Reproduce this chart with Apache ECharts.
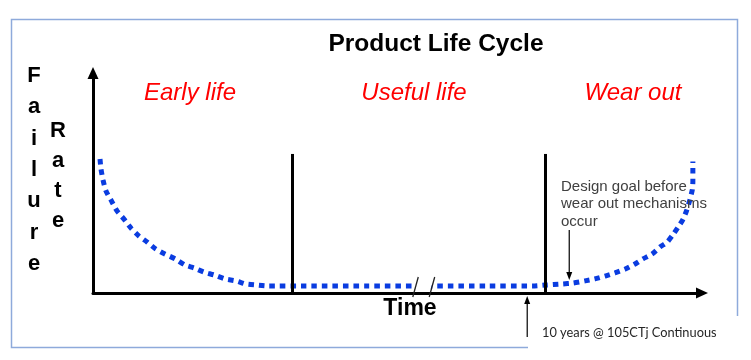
<!DOCTYPE html>
<html><head><meta charset="utf-8">
<script src="https://cdn.jsdelivr.net/npm/echarts@6/dist/echarts.min.js"></script>
<style>html,body{margin:0;padding:0;background:#fff}#c{width:751px;height:360px}</style>
</head><body><div id="c"></div>
<script>
// ---- data (time in % of life span, failure rate in relative units) ----
const time = [1.15,1.31,1.64,2.13,3.12,3.94,5.09,6.24,7.55,8.87,10.3,11.8,13.5,15.1,16.6,18.2,19.9,21.7,23.5,25.1,26.9,28.7,
  35,45,55,65,72.2,74.2,
  77.0,78.8,80.8,82.4,84.1,85.7,87.4,89.0,90.3,91.8,93.1,94.3,95.2,96.1,96.9,97.5,98.0,98.4,98.5,98.5,98.5];
const failureRate = [60.9,56.4,51.4,46.4,41.4,37.3,33.6,29.5,25.9,23.2,20.0,17.7,15.5,12.7,11.4,9.5,8.2,6.4,5.5,4.1,3.6,3.2,
  3.2,3.2,3.2,3.2,3.2,3.6,
  4.1,4.5,5.5,6.4,7.7,9.1,10.9,13.2,15.5,17.7,20.9,23.2,26.4,30.0,33.6,37.7,42.3,46.8,50.5,55.0,59.8];
const phaseBoundaries = [32.7, 74.2];
const boundaryTop = 63.2;
const phaseLabels = ['Early life', 'Useful life', 'Wear out'];
const titleText = 'Product Life Cycle';
const yName = ['Failure', 'Rate'];
const xName = 'Time';
const designGoalText = ['Design goal before', 'wear out mechanisms', 'occur'];
const designGoalArrow = [78.2, 28.6, 5.9];   // time, from rate, to rate
const tenYearArrow = [71.3, -20, -1.4];      // time, from rate, to rate
const tenYearText = '10 years @ 105CTj Continuous';
const breakMarks = [53.0, 55.7];

const chart = echarts.init(document.getElementById('c'), null, {renderer: 'canvas'});
const curve = time.map((t, i) => [t, failureRate[i]]);

const axisCommon = {
  type: 'value', min: 0, max: 100,
  axisTick: {show: false}, axisLabel: {show: false}, splitLine: {show: false},
  axisLine: {show: true, onZero: false, symbol: ['none', 'triangle'], symbolSize: [11, 12],
    lineStyle: {color: '#000', width: 3}}
};

chart.setOption({
  animation: false,
  grid: {left: 93, right: 49, top: 73, bottom: 67},
  xAxis: Object.assign({}, axisCommon),
  yAxis: Object.assign({}, axisCommon),
  series: [{
    type: 'line', data: curve, smooth: 0.2, showSymbol: false, clip: false, z: 3,
    lineStyle: {color: '#0A3CE0', width: 5, type: [5.5, 5], cap: 'butt'},
    markLine: {
      silent: true, symbol: ['none', 'none'], label: {show: false},
      lineStyle: {color: '#000', width: 3, type: 'solid'},
      data: phaseBoundaries.map(b => [{coord: [b, 0]}, {coord: [b, boundaryTop]}])
    }
  }]
});

const px = (t, r) => chart.convertToPixel({gridIndex: 0}, [t, r]);
const F = 'Liberation Sans, Arial, sans-serif';
const g = [];
// frame
g.push({type: 'polyline', z: 1, shape: {points: [[528, 347.5], [11.5, 347.5], [11.5, 19.5], [737.5, 19.5], [737.5, 316]]},
  style: {stroke: '#8EAADB', lineWidth: 1.5, fill: null}});
// title
g.push({type: 'text', x: 436, y: 44, style: {text: titleText, font: 'bold 24.5px ' + F, fill: '#000', align: 'center', verticalAlign: 'middle'}});
// y name letters
g.push({type: 'text', x: 34, y: 170, style: {text: yName[0].split('').join('\n'), font: 'bold 22px ' + F, lineHeight: 31.3, fill: '#000', align: 'center', verticalAlign: 'middle'}});
g.push({type: 'text', x: 58, y: 176, style: {text: yName[1].split('').join('\n'), font: 'bold 22px ' + F, lineHeight: 30, fill: '#000', align: 'center', verticalAlign: 'middle'}});
// phase labels
[[190, 93], [414, 93], [633, 93]].forEach((p, i) => g.push({type: 'text', x: p[0], y: p[1],
  style: {text: phaseLabels[i], font: 'italic 24px ' + F, fill: '#FF0000', align: 'center', verticalAlign: 'middle'}}));
// x name
g.push({type: 'text', x: 410, y: 309, style: {text: xName, font: 'bold 23px ' + F, fill: '#000', align: 'center', verticalAlign: 'middle'}});
// break marks
const b0 = px(breakMarks[0], 0), b1 = px(breakMarks[1], 0);
g.push({type: 'polygon', z: 10, shape: {points: [[b0[0] - 2, b0[1] - 3], [b1[0] - 2, b1[1] - 3], [b1[0] + 2, b1[1] - 15], [b0[0] + 2, b0[1] - 15]]},
  style: {fill: '#fff'}});
breakMarks.forEach(m => { const p = px(m, 0);
  g.push({type: 'line', z: 11, shape: {x1: p[0] - 3, y1: p[1] + 4, x2: p[0] + 2.5, y2: p[1] - 16}, style: {stroke: '#222', lineWidth: 1.3}}); });
// arrows
function arrow(a) {
  const s = px(a[0], a[1]), e = px(a[0], a[2]);
  const dir = e[1] > s[1] ? 1 : -1;
  g.push({type: 'line', z: 12, shape: {x1: s[0], y1: s[1], x2: e[0], y2: e[1] - dir * 6}, style: {stroke: '#000', lineWidth: 1.2}});
  g.push({type: 'polygon', z: 12, shape: {points: [[e[0], e[1]], [e[0] - 3, e[1] - dir * 8], [e[0] + 3, e[1] - dir * 8]]}, style: {fill: '#000'}});
}
arrow(designGoalArrow);
arrow(tenYearArrow);
// annotation text
g.push({type: 'text', x: 561, y: 204, z: 12, style: {text: designGoalText.join('\n'), font: '15px ' + F, lineHeight: 17.5, fill: '#404040', align: 'left', verticalAlign: 'middle'}});
g.push({type: 'text', x: 542, y: 333, style: {text: tenYearText, font: '12.8px Lato, sans-serif', fill: '#262626', align: 'left', verticalAlign: 'middle'}});

chart.setOption({graphic: g});
</script></body></html>
